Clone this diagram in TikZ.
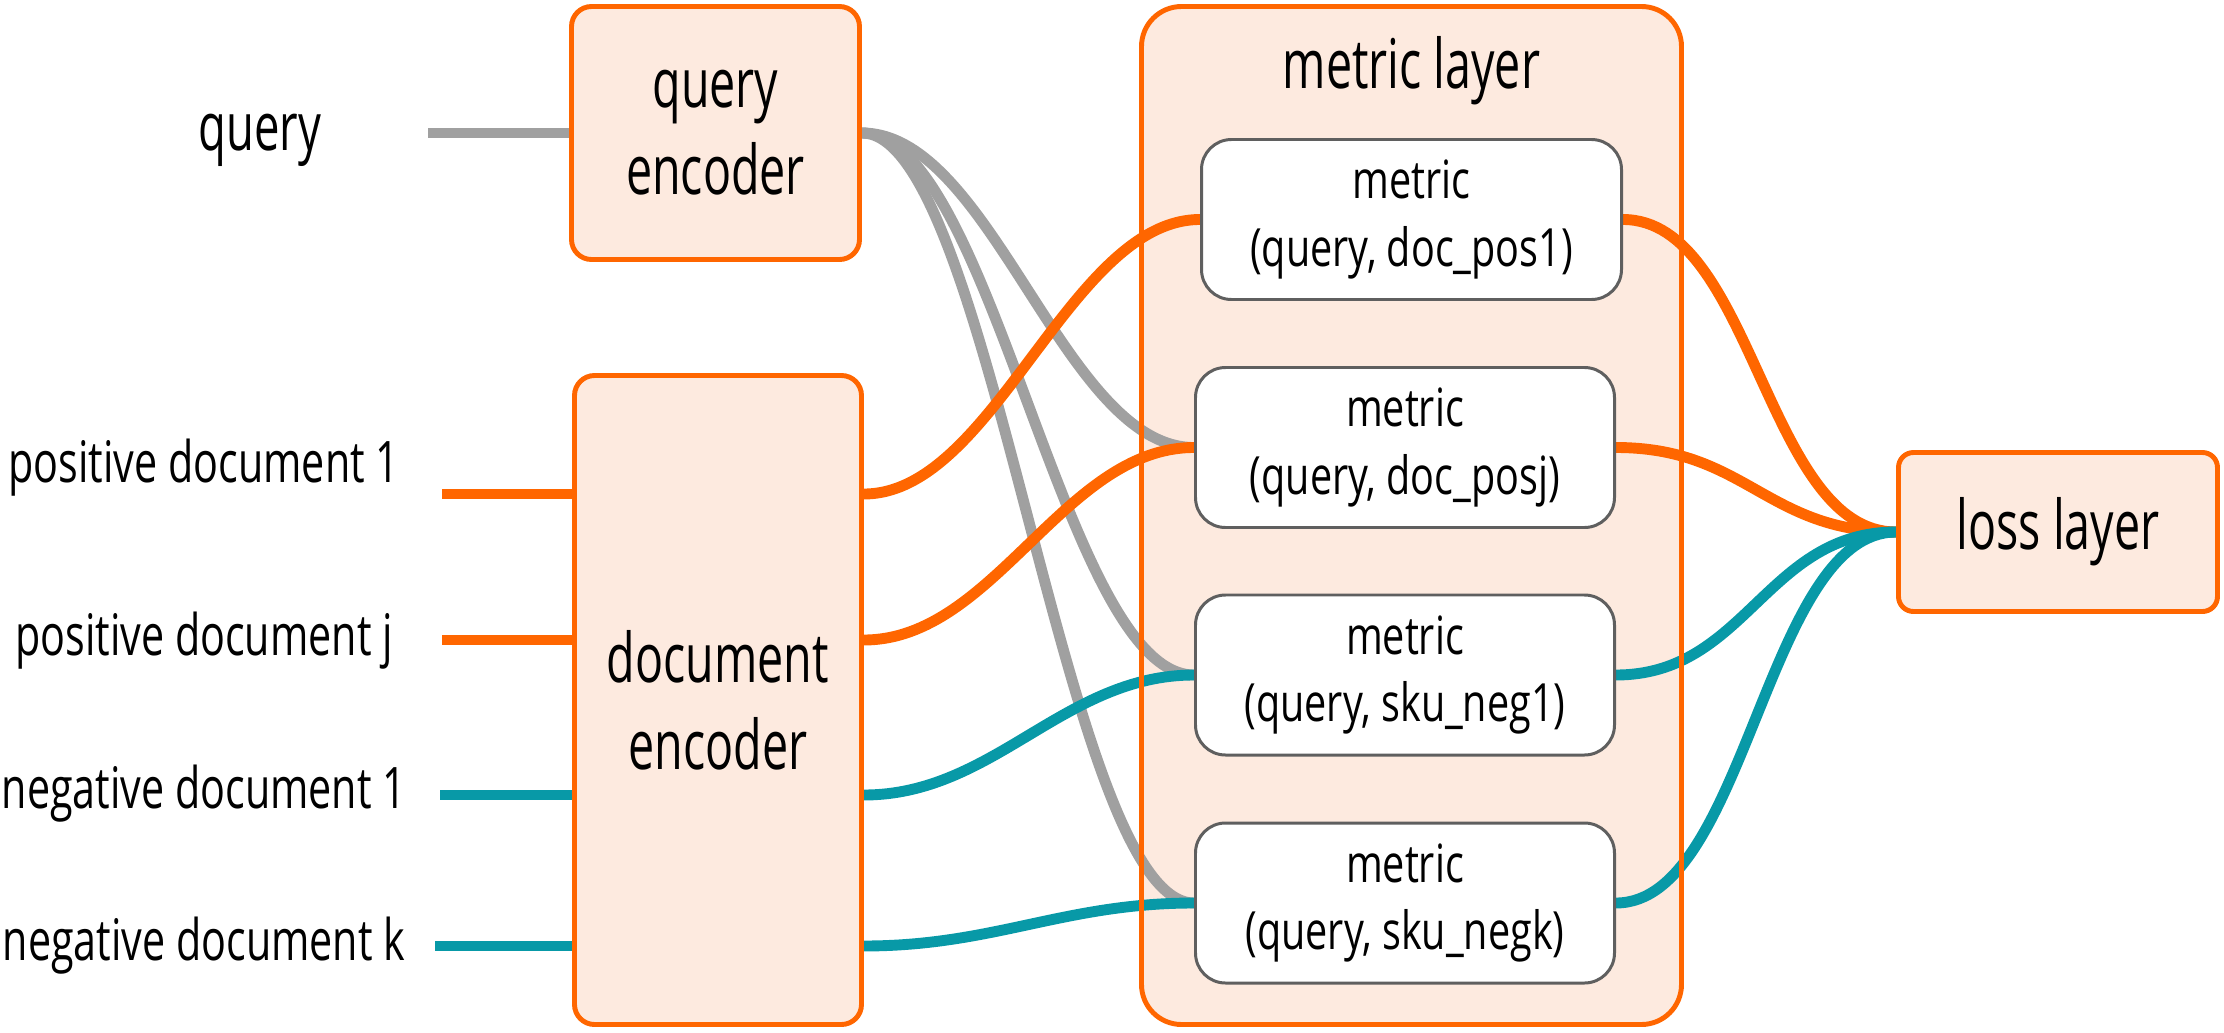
\documentclass[tikz,border=0pt]{standalone}
\usepackage{fontspec}
\setmainfont{Open Sans}[FakeStretch=0.68]
\newfontfamily\labelfont{Open Sans}[FakeStretch=0.72]
\newfontfamily\metricfont{Open Sans}[FakeStretch=0.75]
\usepackage{tikz}
\usetikzlibrary{backgrounds}
\definecolor{layerorange}{HTML}{FF6600}
\definecolor{layerfill}{HTML}{FDEADF}
\definecolor{querygray}{HTML}{A0A0A0}
\definecolor{negteal}{HTML}{0899A7}
\definecolor{boxgray}{HTML}{5F5F5F}

\begin{document}
\begin{tikzpicture}[
    encoder/.style={rectangle, rounded corners=0.2cm, draw=layerorange, fill=layerfill, line width=1.4pt, align=center, font=\fontsize{19.5}{24.7}\selectfont},
    metricbox/.style={rectangle, rounded corners=0.3cm, draw=boxgray, fill=white, line width=0.85pt, minimum width=4.19cm, minimum height=1.6cm, align=center, font=\metricfont\fontsize{15}{19.3}\selectfont},
    inlabel/.style={font=\labelfont\fontsize{16.3}{19}\selectfont},
    wire/.style={line width=3.1pt},
    scurve/.style={to path={.. controls +(1.3,0) and +(-1.3,0) .. (\tikztotarget)}}
]
\useasboundingbox (0,0) rectangle (22.24,10.32);

% Inputs on the left
\node[font=\fontsize{19}{22}\selectfont] (lquery) at (2.60,8.92) {query};
\node[inlabel] (lpos1) at (2.04,5.64) {positive document 1};
\node[inlabel] (lposj) at (2.04,3.91) {positive document j};
\node[inlabel] (lneg1) at (2.04,2.38) {negative document 1};
\node[inlabel] (lnegk) at (2.04,0.86) {negative document k};

\coordinate (qin) at (4.28,8.99);
\coordinate (pos1) at (4.42,5.38);
\coordinate (posj) at (4.42,3.92);
\coordinate (neg1) at (4.40,2.37);
\coordinate (negk) at (4.35,0.86);

% Two encoders
\node[encoder, minimum width=2.88cm, minimum height=2.53cm] (qenc) at (7.155,8.99) {query\\encoder};
\node[encoder, minimum width=2.87cm, minimum height=6.49cm] (denc) at (7.18,3.32) {document\\encoder};

% Metric layer with four metrics
\node[draw=layerorange, line width=1.4pt, rounded corners=0.4cm, minimum width=5.40cm, minimum height=10.18cm, outer sep=0pt] (mlayer) at (14.115,5.165) {};
\node[font=\fontsize{19.5}{24}\selectfont] (mtitle) at (14.115,9.61) {metric layer};
\node[metricbox, minimum width=4.20cm] (m1) at (14.115,8.125) {metric\\(query, doc\_pos1)};
\node[metricbox] (m2) at (14.05,5.845) {metric\\(query, doc\_posj)};
\node[metricbox] (m3) at (14.05,3.57) {metric\\(query, sku\_neg1)};
\node[metricbox] (m4) at (14.05,1.29) {metric\\(query, sku\_negk)};

% Loss
\node[encoder, rounded corners=0.15cm, minimum width=3.19cm, minimum height=1.59cm] (loss) at (20.58,5.00) {loss layer};

\begin{scope}[on background layer]
\fill[layerfill, rounded corners=0.4cm] (mlayer.south west) rectangle (mlayer.north east);

% Query branch
\draw[wire, querygray] (qin) -- (qenc.west);
\draw[wire, querygray] (qenc.east) to[scurve] (m2.west);
\draw[wire, querygray] (qenc.east) to[scurve] (m3.west);
\draw[wire, querygray] (qenc.east) to[scurve] (m4.west);

% Positive documents
\draw[wire, layerorange] (pos1) -- (pos1 -| denc.west);
\draw[wire, layerorange] (posj) -- (posj -| denc.west);
\draw[wire, layerorange] (pos1 -| denc.east) to[scurve] (m1.west);
\draw[wire, layerorange] (posj -| denc.east) to[scurve] (m2.west);

% Negative documents
\draw[wire, negteal] (neg1) -- (neg1 -| denc.west);
\draw[wire, negteal] (negk) -- (negk -| denc.west);
\draw[wire, negteal] (neg1 -| denc.east) to[scurve] (m3.west);
\draw[wire, negteal] (negk -| denc.east) to[scurve] (m4.west);

% Metrics into the loss
\draw[wire, layerorange] (m1.east) to[scurve] (loss.west);
\draw[wire, layerorange] (m2.east) to[scurve] (loss.west);
\draw[wire, negteal] (m3.east) to[scurve] (loss.west);
\draw[wire, negteal] (m4.east) to[scurve] (loss.west);
\end{scope}
\end{tikzpicture}
\end{document}
